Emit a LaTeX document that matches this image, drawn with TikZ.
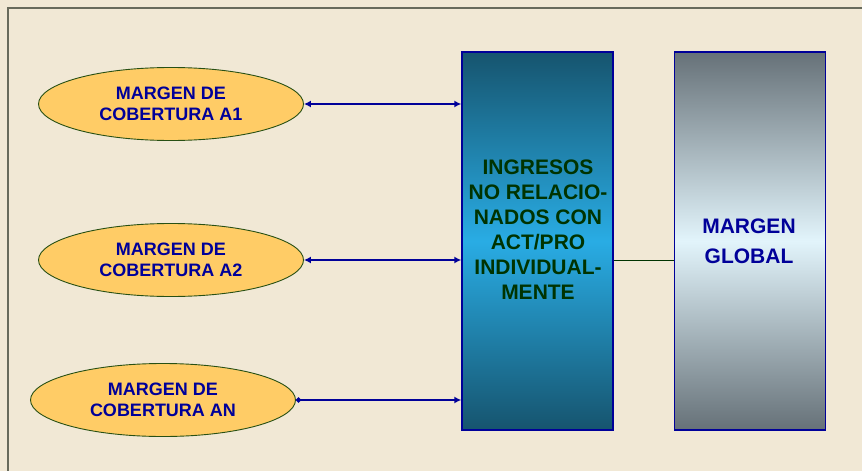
\documentclass[tikz,border=0pt]{standalone}
\usepackage{fontspec}
\setmainfont{Liberation Sans}
\usepackage{xcolor}
\usetikzlibrary{shapes,arrows.meta,positioning,calc}
\definecolor{paper}{RGB}{241,232,213}
\definecolor{frame}{RGB}{104,106,92}
\definecolor{azul}{RGB}{0,0,153}
\definecolor{verde}{RGB}{0,51,0}
\definecolor{oliva}{RGB}{40,80,20}
\definecolor{amarillo}{RGB}{255,204,102}
\definecolor{petroleo}{RGB}{22,84,110}
\definecolor{celeste}{RGB}{41,172,228}
\definecolor{pizarra}{RGB}{102,113,120}
\definecolor{hielo}{RGB}{226,244,251}
\tikzstyle{cobertura} = [ellipse, draw=oliva, fill=amarillo, line width=0.9pt, minimum width=265pt, minimum height=73pt, inner sep=0pt, align=center, text=azul, font=\fontsize{18}{21}\selectfont\bfseries]
\tikzstyle{bloque} = [rectangle, draw=azul, line width=1.4pt, minimum width=151pt, minimum height=378pt, inner sep=0pt]
\tikzstyle{flecha} = [draw=azul, line width=1.5pt, >={Latex[length=7pt,width=7pt]}]

\begin{document}
\begin{tikzpicture}[x=1pt, y=-1pt]
    \useasboundingbox (0,0) rectangle (862,471);
    \fill[paper] (0,0) rectangle (862,471);
    \draw[frame, line width=2pt] (8,471) -- (8,8) -- (862,8);
    % margenes de cobertura
    \node[cobertura] (a1) at (171,104) {MARGEN DE\\COBERTURA A1};
    \node[cobertura] (a2) at (171,260) {MARGEN DE\\COBERTURA A2};
    \node[cobertura] (an) at (163,400) {MARGEN DE\\COBERTURA AN};
    % bloques
    \node[bloque, top color=petroleo, bottom color=petroleo, middle color=celeste] (ingresos) at (537.5,241) {};
    \node[align=center, text=verde, font=\fontsize{21}{25}\selectfont\bfseries] (ingresostxt) at (538,230) {INGRESOS\\NO RELACIO-\\NADOS CON\\ACT/PRO\\INDIVIDUAL-\\MENTE};
    \node[bloque, top color=pizarra, bottom color=pizarra, middle color=hielo] (global) at (750,241) {};
    \node[align=center, text=azul, font=\fontsize{21}{30}\selectfont\bfseries] (globaltxt) at (749,241) {MARGEN\\GLOBAL};
    % conexiones
    \draw[flecha, <->] (a1.east) -- (a1 -| ingresos.west);
    \draw[flecha, <->] (a2.east) -- (a2 -| ingresos.west);
    \draw[flecha, {Circle[length=5pt]}->] (an.east) -- (an -| ingresos.west);
    \draw[verde, line width=1pt] (ingresos.east |- a2) -- (global.west |- a2);
\end{tikzpicture}
\end{document}
